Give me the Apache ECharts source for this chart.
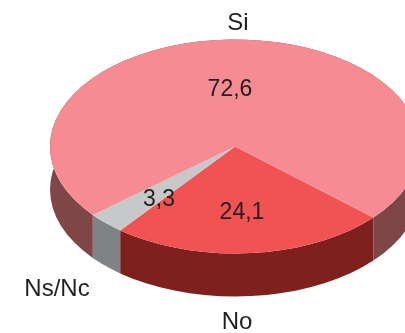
<!DOCTYPE html>
<html><head><meta charset="utf-8">
<style>html,body{margin:0;padding:0;background:#fff}#c{width:405px;height:333px}</style>
<script src="https://cdn.jsdelivr.net/npm/echarts@6/dist/echarts.min.js"></script>
</head><body><div id="c"></div>
<script>
const categories = ['No', 'Ns/Nc', 'Si'];
const values = [24.1, 3.3, 72.6];
const topColors = ['#F15352', '#C7C8CA', '#F68B94'];
const wallColors = ['#7F201D', '#808285', '#7F4648'];
const valueLabelPos = [[242, 212.5], [159, 199.5], [230, 89.5]];
const nameLabelPos = [[237, 322], [57, 289], [238, 23]];

const cx = 235, cy = 146.5, rx = 185, ry = 107, depth = 43, startDeg = 131.6, stepDeg = 5;
const total = values.reduce((a, b) => a + b, 0);

function pt(deg, dy) {
  const t = deg * Math.PI / 180;
  return [cx + rx * Math.sin(t), cy - ry * Math.cos(t) + dy];
}
function arc(a, b, dy) {
  const out = [];
  const n = Math.max(1, Math.ceil((b - a) / stepDeg));
  for (let i = 0; i <= n; i++) out.push(pt(a + (b - a) * i / n, dy));
  return out;
}
function renderItem(params) {
  const i = params.dataIndex;
  let before = 0;
  for (let k = 0; k < i; k++) before += values[k];
  const a = startDeg + before / total * 360;
  const b = a + values[i] / total * 360;
  const top = arc(a, b, 0);
  const bottom = arc(a, b, depth).reverse();
  return {
    type: 'group',
    children: [
      { type: 'polygon', z2: 1, shape: { points: top.concat(bottom) },
        style: { fill: wallColors[i] } },
      { type: 'polygon', z2: 2, shape: { points: [[cx, cy]].concat(top) },
        style: { fill: topColors[i] } }
    ]
  };
}
const textStyle = (text, p, size) => ({
  type: 'text', x: p[0], y: p[1], z: 10, silent: true,
  style: { text, fill: '#231F20', font: size + 'px "Liberation Sans", Arial, sans-serif',
           textAlign: 'center', textVerticalAlign: 'middle' }
});
const chart = echarts.init(document.getElementById('c'), null, { renderer: 'canvas' });
chart.setOption({
  animation: false,
  backgroundColor: '#fff',
  series: [{
    type: 'custom', coordinateSystem: 'none', silent: true,
    data: values, renderItem
  }],
  graphic: categories.map((c, i) => textStyle(c, nameLabelPos[i], 24))
    .concat(values.map((v, i) => textStyle(String(v).replace('.', ','), valueLabelPos[i], 23)))
});
</script></body></html>
